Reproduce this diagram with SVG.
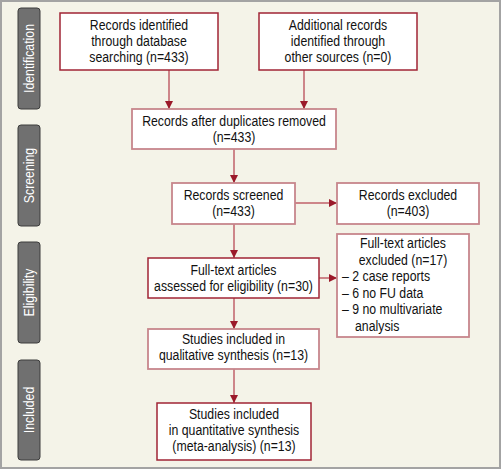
<svg xmlns="http://www.w3.org/2000/svg" width="502" height="470" viewBox="0 0 502 470">
<defs>
<style>
.bg{fill:#f4f3e8;stroke:#a3a3a3;stroke-width:2}
.side{fill:#707070;stroke:#3c3c3c;stroke-width:1}
.sl{font-family:"Liberation Sans",Arial,sans-serif;font-size:15px;fill:#ffffff;text-anchor:middle}
.bd{fill:#ffffff;stroke:#a02535;stroke-width:1.5}
.bp{fill:#ffffff;stroke:#c7868c;stroke-width:1.8}
.t{font-family:"Liberation Sans",Arial,sans-serif;font-size:15px;fill:#111111;text-anchor:middle}
.tl{font-family:"Liberation Sans",Arial,sans-serif;font-size:15px;fill:#111111;text-anchor:start}
.c{stroke:#c0606a;stroke-width:1.5;fill:none;marker-end:url(#ah)}
</style>
<marker id="ah" markerUnits="userSpaceOnUse" markerWidth="10" markerHeight="10" viewBox="0 0 10 10" refX="9" refY="5" orient="auto">
<path d="M1,1 L9,5 L1,9 Z" fill="#9b1a2a"/>
</marker>
</defs>
<rect class="bg" x="1" y="1" width="499" height="467"/>
<g id="side-identification">
<rect class="side" x="18" y="8" width="22" height="101" rx="3"/>
<text class="sl" transform="translate(34 58.5) rotate(-90) scale(0.82 1)">Identification</text>
</g>
<g id="side-screening">
<rect class="side" x="18" y="125" width="22" height="101" rx="3"/>
<text class="sl" transform="translate(34 175.5) rotate(-90) scale(0.82 1)">Screening</text>
</g>
<g id="side-eligibility">
<rect class="side" x="18" y="242" width="22" height="101" rx="3"/>
<text class="sl" transform="translate(34 292.5) rotate(-90) scale(0.82 1)">Eligibility</text>
</g>
<g id="side-included">
<rect class="side" x="18" y="360" width="22" height="100" rx="3"/>
<text class="sl" transform="translate(34 410) rotate(-90) scale(0.82 1)">Included</text>
</g>
<g id="connectors">
<line class="c" x1="169" y1="70" x2="169" y2="109"/>
<line class="c" x1="304" y1="70" x2="304" y2="109"/>
<line class="c" x1="234" y1="149" x2="234" y2="183"/>
<line class="c" x1="234" y1="224" x2="234" y2="258"/>
<line class="c" x1="295" y1="203" x2="337" y2="203"/>
<line class="c" x1="319" y1="278" x2="337" y2="278"/>
<line class="c" x1="234" y1="298" x2="234" y2="329"/>
<line class="c" x1="234" y1="369" x2="234" y2="403"/>
</g>
<g id="n-database">
<rect class="bd" x="60" y="13" width="158" height="57"/>
<text class="t" transform="translate(139 30) scale(0.82 1)">Records identified</text>
<text class="t" transform="translate(139 46) scale(0.82 1)">through database</text>
<text class="t" transform="translate(139 62) scale(0.82 1)">searching (n=433)</text>
</g>
<g id="n-other">
<rect class="bd" x="259" y="13" width="158" height="57"/>
<text class="t" transform="translate(338 30) scale(0.82 1)">Additional records</text>
<text class="t" transform="translate(338 46) scale(0.82 1)">identified through</text>
<text class="t" transform="translate(338 62) scale(0.82 1)">other sources (n=0)</text>
</g>
<g id="n-dupes">
<rect class="bp" x="132" y="109" width="204" height="40"/>
<text class="t" transform="translate(234 126) scale(0.82 1)">Records after duplicates removed</text>
<text class="t" transform="translate(234 142) scale(0.82 1)">(n=433)</text>
</g>
<g id="n-screened">
<rect class="bp" x="172" y="183" width="123" height="41"/>
<text class="t" transform="translate(233.5 200) scale(0.82 1)">Records screened</text>
<text class="t" transform="translate(233.5 216) scale(0.82 1)">(n=433)</text>
</g>
<g id="n-excluded">
<rect class="bp" x="337" y="183" width="142" height="41"/>
<text class="t" transform="translate(408 200) scale(0.82 1)">Records excluded</text>
<text class="t" transform="translate(408 216) scale(0.82 1)">(n=403)</text>
</g>
<g id="n-fulltext">
<rect class="bd" x="148" y="258" width="171" height="40"/>
<text class="t" transform="translate(233.5 275) scale(0.82 1)">Full-text articles</text>
<text class="t" transform="translate(233.5 291) scale(0.82 1)">assessed for eligibility (n=30)</text>
</g>
<g id="n-ftexcluded">
<rect class="bp" x="337" y="234" width="132" height="103"/>
<text class="t" transform="translate(403 248) scale(0.82 1)">Full-text articles</text>
<text class="t" transform="translate(403 264.5) scale(0.82 1)">excluded (n=17)</text>
<text class="tl" transform="translate(342 281) scale(0.82 1)">– 2 case reports</text>
<text class="tl" transform="translate(342 297.5) scale(0.82 1)">– 6 no FU data</text>
<text class="tl" transform="translate(342 314) scale(0.82 1)">– 9 no multivariate</text>
<text class="tl" transform="translate(355 330.5) scale(0.82 1)">analysis</text>
</g>
<g id="n-qualitative">
<rect class="bp" x="148" y="329" width="171" height="40"/>
<text class="t" transform="translate(233.5 344) scale(0.82 1)">Studies included in</text>
<text class="t" transform="translate(233.5 360) scale(0.82 1)">qualitative synthesis (n=13)</text>
</g>
<g id="n-quantitative">
<rect class="bd" x="157" y="403" width="154" height="57"/>
<text class="t" transform="translate(234 419) scale(0.82 1)">Studies included</text>
<text class="t" transform="translate(234 435) scale(0.82 1)">in quantitative synthesis</text>
<text class="t" transform="translate(234 451) scale(0.82 1)">(meta-analysis) (n=13)</text>
</g>
</svg>
